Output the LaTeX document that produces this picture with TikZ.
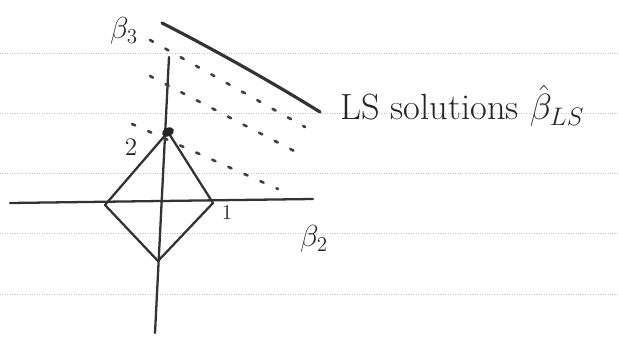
\documentclass[tikz,border=0pt]{standalone}
\usepackage{amsmath}
\begin{document}
\begin{tikzpicture}[x=0.02cm,y=-0.02cm]
    \tikzstyle{every node}=[align=center, font=\LARGE, text=black!85];
    \tikzstyle{axis} = [line width=1.3pt, black!80, line cap=round, line join=round]
    \tikzstyle{lsline} = [line width=1.8pt, black!80, line cap=round]
    \tikzstyle{level} = [line width=1.5pt, black!75, dash pattern=on 2pt off 8pt, line cap=round]
    \tikzstyle{rule} = [gray!45, line width=0.4pt, densely dotted]

    \useasboundingbox (0,0) rectangle (619,338);

    % ruled paper
    \foreach \y in {53,113,173,233,294}
        \draw[rule] (0,\y) -- (619,\y);

    % axes
    \coordinate (West) at (10,203);
    \coordinate (East) at (313,199);
    \coordinate (North) at (169,57);
    \coordinate (South) at (155,333);
    \draw[axis] (West) -- (East);
    \draw[axis] (North) -- (South);

    % l1 ball
    \coordinate (Top) at (168,132);
    \coordinate (Right) at (213,203);
    \coordinate (Bottom) at (158,261);
    \coordinate (Left) at (105,205);
    \draw[axis] (Top) -- (Right) -- (Bottom) -- (Left) -- cycle;
    \fill[black!85, rotate=25] (Top) ellipse (3.6pt and 2.4pt);

    % level sets
    \coordinate (A1) at (132,124);
    \coordinate (A2) at (278,189);
    \coordinate (B1) at (150,76);
    \coordinate (B2) at (298,153);
    \coordinate (C1) at (150,40);
    \coordinate (C2) at (305,127);
    \draw[level] (A1) -- (A2);
    \draw[level] (B1) -- (B2);
    \draw[level] (C1) -- (C2);

    % LS solutions
    \coordinate (LSa) at (162,23);
    \coordinate (LSb) at (320,112);
    \draw[lsline] (LSa) .. controls (215,50) and (275,84) .. (LSb);

    \node (BetaThree) at (124,31) {$\beta_3$};
    \node[font=\Large] (Two) at (131,147) {2};
    \node[font=\large] (One) at (227,212) {1};
    \node (BetaTwo) at (314,239) {$\beta_2$};
    \node[anchor=west, font=\huge] (LSlabel) at (334,106) {LS solutions $\hat{\beta}_{LS}$};
\end{tikzpicture}
\end{document}
